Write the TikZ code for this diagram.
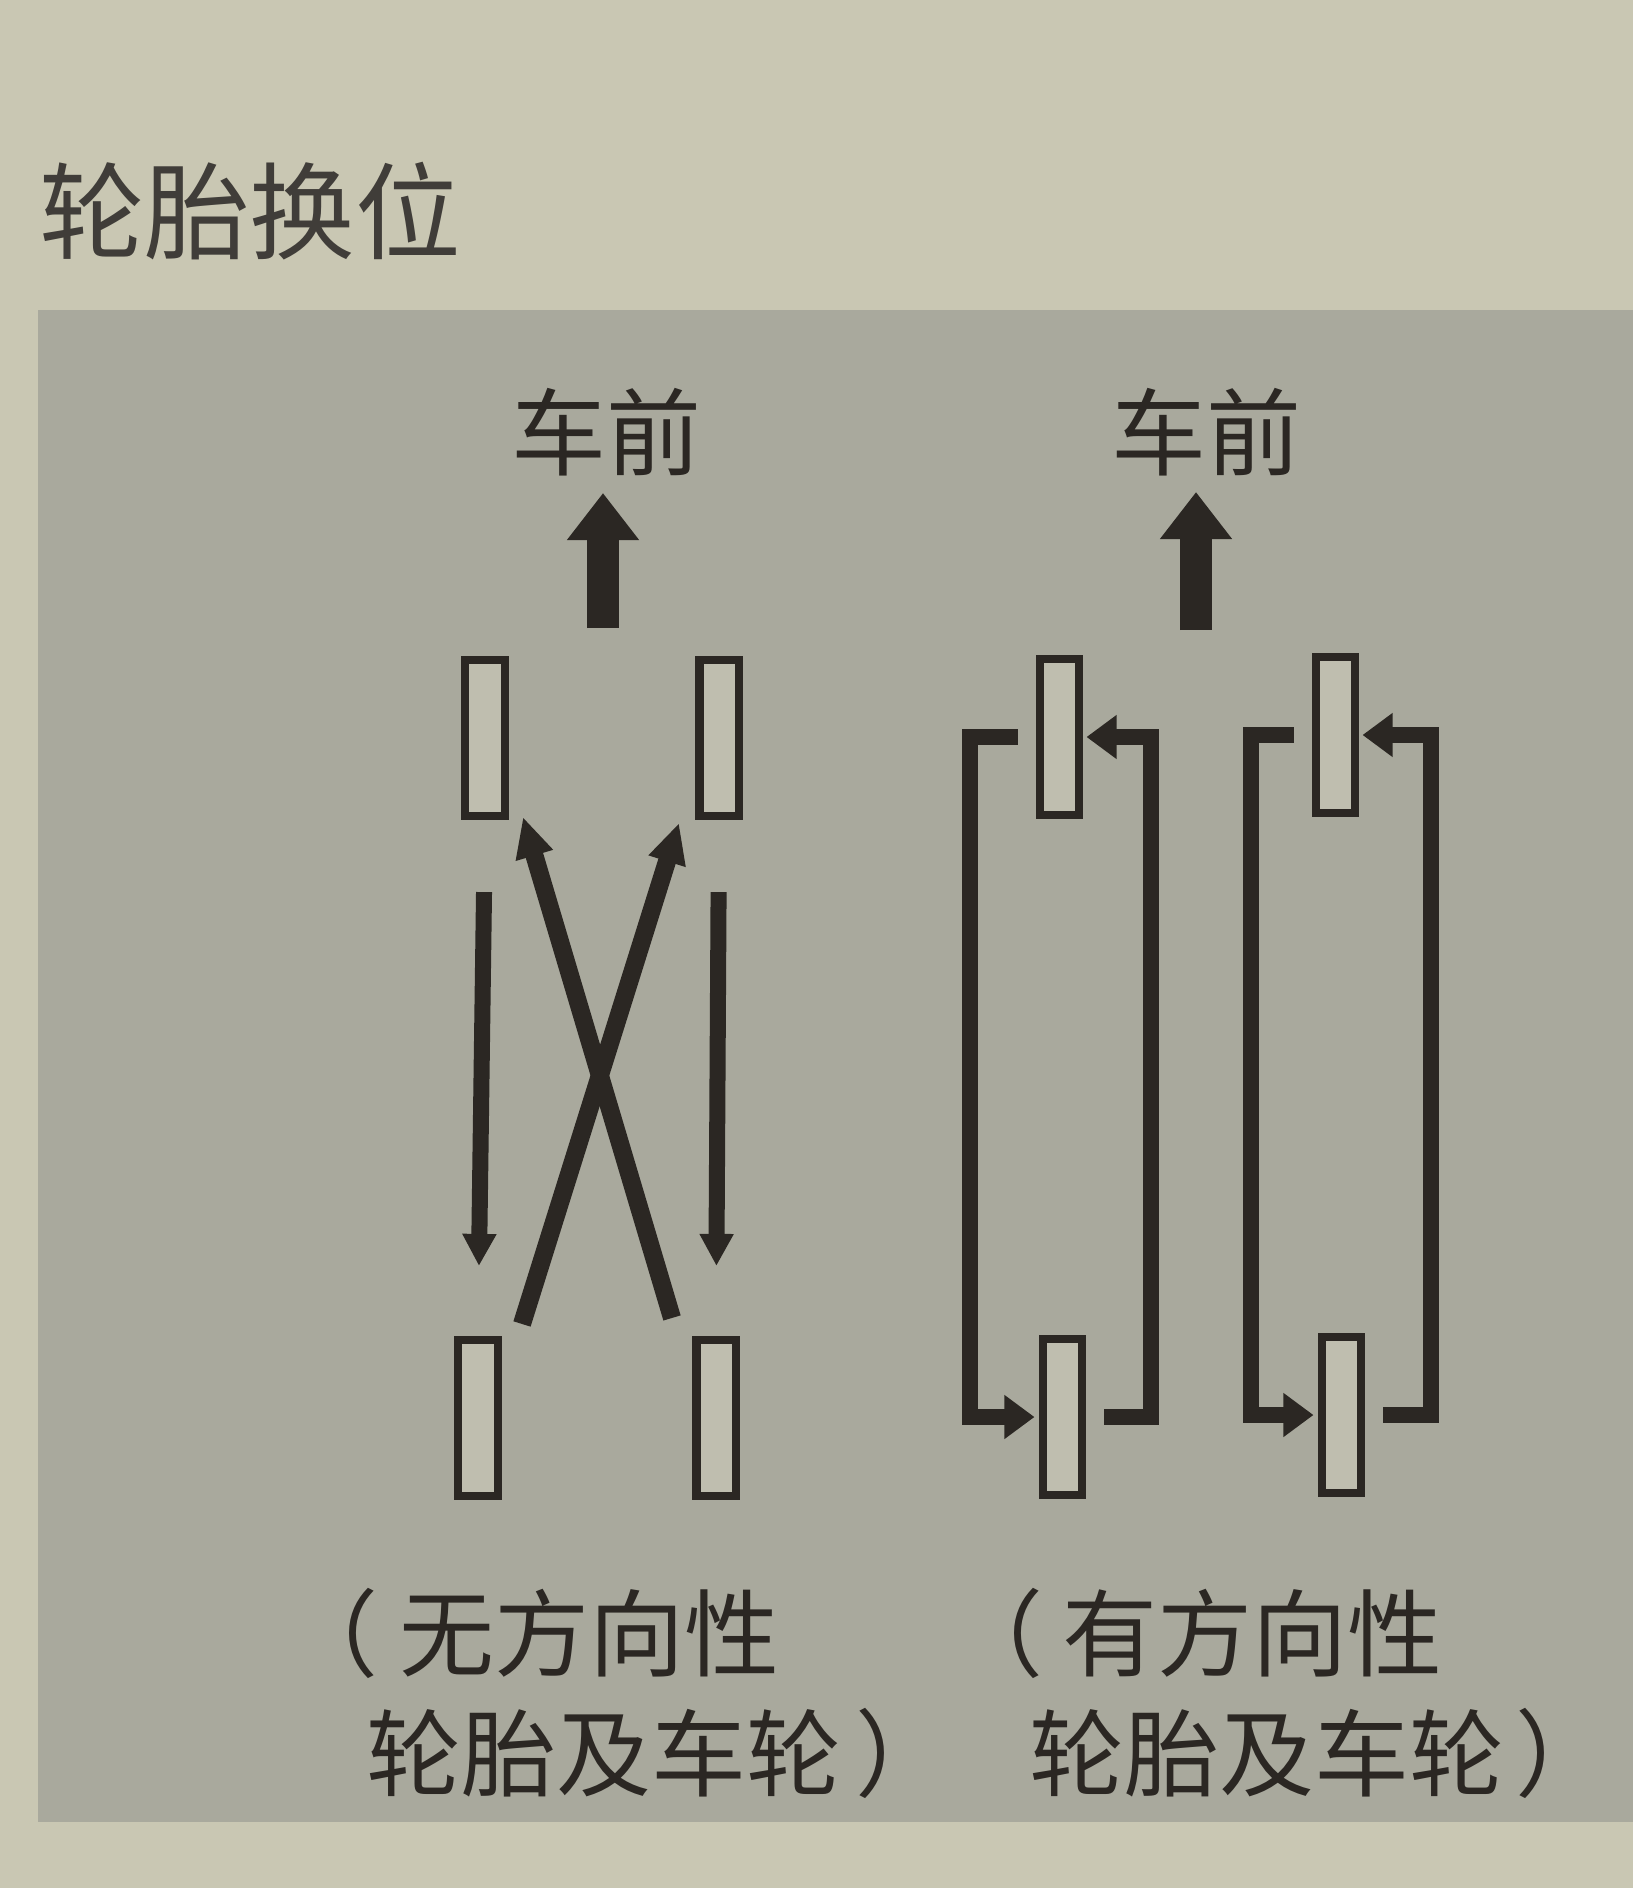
\documentclass[tikz,border=0pt]{standalone}
\usepackage{fontspec}
\usepackage{xcolor}
\usepackage{tikz}
\usetikzlibrary{arrows.meta,positioning}
\newfontfamily\cjk{Noto Sans CJK SC}
\definecolor{paper}{HTML}{C9C7B3}
\definecolor{panel}{HTML}{A9A99D}
\definecolor{ink}{HTML}{2B2723}
\definecolor{tyrefill}{HTML}{BFBEAF}

\begin{document}
\begin{tikzpicture}[
    x=0.01cm, y=-0.01cm,
    tyre/.style={rectangle, draw=ink, fill=tyrefill, line width=0.08cm, minimum width=0.39cm, minimum height=1.56cm, inner sep=0pt},
    front/.style={text=ink, font=\cjk\fontsize{27pt}{34pt}\selectfont, inner sep=0pt},
    heading/.style={text=ink!90, font=\cjk\fontsize{30pt}{36pt}\selectfont, inner sep=0pt},
    txt/.style={text=ink, font=\cjk\fontsize{27pt}{34.1pt}\selectfont, inner sep=0pt, align=left, anchor=west},
    fwd/.style={ink, line width=0.32cm, -{Triangle[length=0.47cm,width=0.69cm]}},
    downarrow/.style={ink, line width=0.16cm, -{Triangle[length=0.32cm,width=0.32cm]}, shorten <=0.72cm, shorten >=0.70cm},
    xarrow/.style={ink, line width=0.18cm, -{Triangle[length=0.40cm,width=0.36cm]}},
    turnarrow/.style={ink, line width=0.16cm, -{Triangle[length=0.30cm,width=0.42cm]}, shorten >=0.04cm}
]
    \useasboundingbox (0,0) rectangle (1633,1888);
    \fill[paper] (0,0) rectangle (1633,1888);
    \fill[panel] (38,310) rectangle (1633,1822);

    \node[heading] (ttl) at (250,211) {轮胎换位};

    \node[front] (f1) at (606,432) {车前};
    \node[front] (f2) at (1206,432) {车前};
    \coordinate (u1) at (603,628);
    \coordinate (u2) at (1196,630);
    \draw[fwd] (u1) -- ++(0,-135);
    \draw[fwd] (u2) -- ++(0,-138);

    \node[tyre] (tl) at (485,738) {};
    \node[tyre] (tr) at (719,738) {};
    \node[tyre] (bl) at (478,1418) {};
    \node[tyre] (br) at (716,1418) {};

    \draw[downarrow] (tl.south) -- (bl.north);
    \draw[downarrow] (tr.south) -- (br.north);
    \draw[xarrow] ([shift={(44,-12)}]bl.north) -- ([shift={(-40,3)}]tr.south);
    \draw[xarrow] ([shift={(-44,-18)}]br.north) -- ([shift={(38,-3)}]tl.south);

    \node[tyre] (t1) at (1059,737) {};
    \node[tyre] (t2) at (1335,735) {};
    \node[tyre] (b1) at (1062,1417) {};
    \node[tyre] (b2) at (1341,1415) {};

    \draw[turnarrow] ([xshift=-0.175cm]t1.west) -- ++(-48,0) |- (b1.west);
    \draw[turnarrow] ([xshift=0.185cm]b1.east) -- ++(47,0) |- (t1.east);
    \draw[turnarrow] ([xshift=-0.175cm]t2.west) -- ++(-43,0) |- (b2.west);
    \draw[turnarrow] ([xshift=0.185cm]b2.east) -- ++(48,0) |- (t2.east);

    \node[txt] (n1) at (304,1693) {\kern-0.22em（\kern0.22em无方向性\\\hspace*{0.65em}轮胎及车轮\kern0.15em）};
    \node[txt] (n2) at (967,1693) {\kern-0.2em（\kern0.2em有方向性\\\hspace*{0.65em}轮胎及车轮\kern0.12em）};
\end{tikzpicture}
\end{document}
